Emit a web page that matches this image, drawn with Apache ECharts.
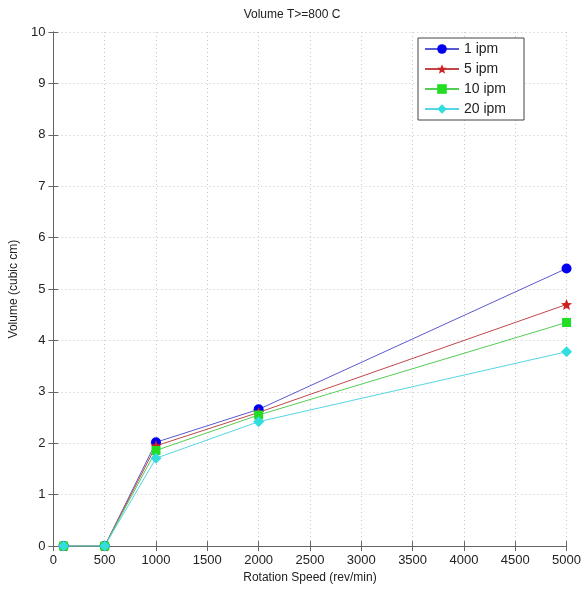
<!DOCTYPE html>
<html>
<head>
<meta charset="utf-8">
<script src="https://cdn.jsdelivr.net/npm/echarts@6/dist/echarts.min.js"></script>
<style>
  html, body { margin: 0; padding: 0; background: #fff; }
  #chart { width: 584px; height: 589px; }
</style>
</head>
<body>
<div id="chart"></div>
<script>
// rotation speeds (rev/min)
var speeds = [100, 500, 1000, 2000, 5000];
var seriesNames = ['1 ipm', '5 ipm', '10 ipm', '20 ipm'];
var vol1 = [0, 0, 2.02, 2.66, 5.4];
var vol5 = [0, 0, 1.95, 2.6, 4.7];
var vol10 = [0, 0, 1.86, 2.55, 4.35];
var vol20 = [0, 0, 1.71, 2.42, 3.78];

var starPath = 'path://M12,2 L14.9,8.9 L22,9.2 L16.5,13.8 L18.2,21 L12,17 L5.8,21 L7.5,13.8 L2,9.2 L9.1,8.9 Z';

var pairs = function(ys){
    var out = [];
    for (var i = 0; i < speeds.length; i++) out.push([speeds[i], ys[i]]);
    return out;
};

var mkSeries = function(name, ys, color, lineColor, symbol, size){
    return {
        name: name,
        type: 'line',
        data: pairs(ys),
        symbol: symbol,
        symbolSize: size,
        showAllSymbol: true,
        lineStyle: {color: lineColor, width: 1},
        itemStyle: {color: color},
        emphasis: {disabled: true},
        animation: false
    };
};

var gridLine = {show: true, lineStyle: {color: '#c8c8c8', type: [1, 3], width: 1}};
var labelFont = {color: '#222', fontSize: 13, fontFamily: 'Liberation Sans, Arial'};

var option = {
    backgroundColor: '#fff',
    title: {
        text: 'Volume T>=800 C',
        left: 'center',
        top: 4,
        textStyle: {fontSize: 12, fontWeight: 'normal', color: '#222', fontFamily: 'Liberation Sans, Arial'}
    },
    grid: {left: 52, right: 16, top: 32, bottom: 41},
    legend: {
        data: seriesNames,
        orient: 'vertical',
        left: 418,
        top: 38,
        itemWidth: 34,
        itemHeight: 12,
        itemGap: 6,
        padding: [4, 18, 4, 6],
        borderColor: '#444',
        borderWidth: 1,
        backgroundColor: '#fff',
        textStyle: {fontSize: 14, color: '#222', fontFamily: 'Liberation Sans, Arial'}
    },
    xAxis: [
        {
            type: 'value', min: 0, max: 5000, interval: 500,
            name: 'Rotation Speed (rev/min)', nameLocation: 'middle', nameGap: 22,
            nameTextStyle: {fontSize: 12, color: '#222', fontFamily: 'Liberation Sans, Arial'},
            axisLine: {show: true, lineStyle: {color: '#666'}},
            axisTick: {show: true, inside: true, length: 5, lineStyle: {color: '#666'}},
            axisLabel: {color: '#222', fontSize: 13, fontFamily: 'Liberation Sans, Arial', formatter: function(v){ return String(v); }},
            splitLine: gridLine
        },
        {
            type: 'value', min: 0, max: 5000, interval: 500, position: 'top',
            axisLine: {show: true, lineStyle: {color: '#666'}},
            axisTick: {show: true, inside: true, length: 5, lineStyle: {color: '#666'}},
            axisLabel: {show: false},
            splitLine: {show: false}
        }
    ],
    yAxis: [
        {
            type: 'value', min: 0, max: 10, interval: 1,
            name: 'Volume (cubic cm)', nameLocation: 'middle', nameGap: 30, nameRotate: 90,
            nameTextStyle: {fontSize: 12, color: '#222', fontFamily: 'Liberation Sans, Arial'},
            axisLine: {show: true, lineStyle: {color: '#666'}},
            axisTick: {show: true, inside: true, length: 5, lineStyle: {color: '#666'}},
            axisLabel: labelFont,
            splitLine: gridLine
        },
        {
            type: 'value', min: 0, max: 10, interval: 1, position: 'right',
            axisLine: {show: true, lineStyle: {color: '#666'}},
            axisTick: {show: true, inside: true, length: 5, lineStyle: {color: '#666'}},
            axisLabel: {show: false},
            splitLine: {show: false}
        }
    ],
    series: [
        mkSeries('1 ipm', vol1, '#0000ee', '#5a5ad0', 'circle', 10),
        mkSeries('5 ipm', vol5, '#cc2222', '#c04848', starPath, 11),
        mkSeries('10 ipm', vol10, '#22dd22', '#55cc55', 'rect', 9),
        mkSeries('20 ipm', vol20, '#33dddd', '#55d5e5', 'diamond', 11)
    ]
};

var myChart = echarts.init(document.getElementById('chart'));
myChart.setOption(option);
</script>
</body>
</html>
